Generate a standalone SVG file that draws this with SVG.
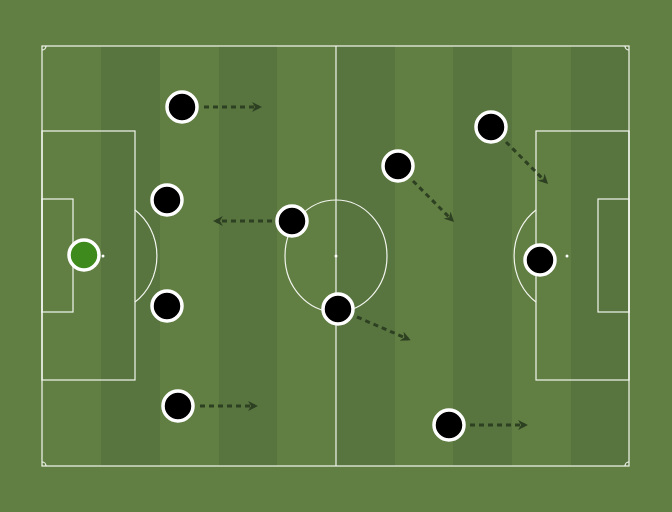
<svg xmlns="http://www.w3.org/2000/svg" width="672" height="512" viewBox="0 0 672 512">
<defs>
<style>
.ln{fill:none;stroke:#f2f5ee;stroke-width:1.2}
.pl{fill:#000;stroke:#fff;stroke-width:3.5}
.gk{fill:#3e8a1c;stroke:#fff;stroke-width:3.5}
.ar{fill:none;stroke:#2e4022;stroke-width:3;stroke-dasharray:5 4;marker-end:url(#ah)}
.dk{fill:#587540}
</style>
<marker id="ah" viewBox="0 0 10 10" refX="7" refY="5" markerWidth="3.3" markerHeight="3.3" orient="auto" markerUnits="strokeWidth">
<path d="M0,0 L10,5 L0,10 L3,5 Z" fill="#2e4022"/>
</marker>
</defs>
<rect width="672" height="512" fill="#627f43"/>
<g id="stripes">
<rect class="dk" x="101" y="46" width="59" height="420"/>
<rect class="dk" x="219" y="46" width="58" height="420"/>
<rect class="dk" x="336" y="46" width="59" height="420"/>
<rect class="dk" x="453" y="46" width="59" height="420"/>
<rect class="dk" x="571" y="46" width="58" height="420"/>
</g>
<g id="pitch-lines">
<rect class="ln" x="42" y="46" width="587" height="420" stroke-width="1.5"/>
<line class="ln" x1="336" y1="46" x2="336" y2="466"/>
<ellipse class="ln" cx="336" cy="256" rx="51" ry="56"/>
<circle cx="336" cy="256" r="1.5" fill="#fff"/>
<rect class="ln" x="42" y="131" width="93" height="249"/>
<rect class="ln" x="42" y="199" width="31" height="113"/>
<circle cx="103" cy="256" r="1.5" fill="#fff"/>
<path class="ln" d="M135,210 A51,56 0 0 1 135,302"/>
<rect class="ln" x="536" y="131" width="93" height="249"/>
<rect class="ln" x="598" y="199" width="31" height="113"/>
<circle cx="567" cy="256" r="1.5" fill="#fff"/>
<path class="ln" d="M536,210 A51,56 0 0 0 536,302"/>
<path class="ln" d="M42,50 A4,4 0 0 0 46,46"/>
<path class="ln" d="M625,46 A4,4 0 0 0 629,50"/>
<path class="ln" d="M42,462 A4,4 0 0 1 46,466"/>
<path class="ln" d="M625,466 A4,4 0 0 1 629,462"/>
</g>
<g id="connectors">
<line class="ar" x1="204" y1="107" x2="259" y2="107"/>
<line class="ar" x1="200" y1="406" x2="255" y2="406"/>
<line class="ar" x1="272" y1="221" x2="216" y2="221"/>
<line class="ar" x1="357" y1="317" x2="408" y2="339"/>
<line class="ar" x1="413" y1="181" x2="452" y2="220"/>
<line class="ar" x1="506" y1="142" x2="546" y2="182"/>
<line class="ar" x1="470" y1="425" x2="525" y2="425"/>
</g>
<g id="gk"><circle class="gk" cx="84" cy="255" r="15"/></g>
<g id="p1"><circle class="pl" cx="182" cy="107" r="15"/></g>
<g id="p2"><circle class="pl" cx="167" cy="200" r="15"/></g>
<g id="p3"><circle class="pl" cx="167" cy="306" r="15"/></g>
<g id="p4"><circle class="pl" cx="178" cy="406" r="15"/></g>
<g id="p5"><circle class="pl" cx="292" cy="221" r="15"/></g>
<g id="p6"><circle class="pl" cx="338" cy="309" r="15"/></g>
<g id="p7"><circle class="pl" cx="398" cy="166" r="15"/></g>
<g id="p8"><circle class="pl" cx="491" cy="127" r="15"/></g>
<g id="p9"><circle class="pl" cx="540" cy="260" r="15"/></g>
<g id="p10"><circle class="pl" cx="449" cy="425" r="15"/></g>
</svg>
